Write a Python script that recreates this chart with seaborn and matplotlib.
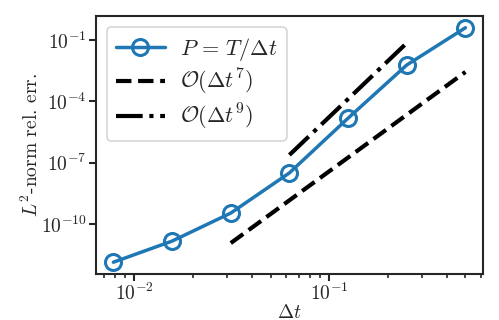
import numpy as np
import pandas as pd
import matplotlib
matplotlib.use("Agg")
import matplotlib.pyplot as plt
import seaborn as sns

# ==========================================
# DATA
# ==========================================
dt = [1/128, 1/64, 1/32, 1/16, 1/8, 1/4, 1/2]
rel_err = [1.4e-12, 1.5e-11, 3.5e-10, 3.2e-8, 1.5e-5, 5.9e-3, 0.39]

# reference slopes, endpoints only
dt_ref7 = [1/32, 1/2]
err_ref7 = [1.2e-11, 2.7e-3]
dt_ref9 = [1/16, 1/4]
err_ref9 = [2.4e-7, 7.0e-2]

series_label = r'$P\,=\,T/\Delta t$'
ref7_label = r'$\mathcal{O}(\Delta t^7)$'
ref9_label = r'$\mathcal{O}(\Delta t^9)$'
ytick_vals = [1e-10, 1e-7, 1e-4, 1e-1]

# ==========================================
# STYLE
# ==========================================
sns.set_theme(style="ticks")
plt.rcParams['font.family'] = ['cmr10', 'DejaVu Serif']
plt.rcParams['mathtext.fontset'] = 'cm'
plt.rcParams['axes.formatter.use_mathtext'] = True
plt.rcParams['axes.linewidth'] = 1.5

df = pd.DataFrame({'dt': dt, 'err': rel_err})

fig = plt.figure(figsize=(4.99, 3.2), dpi=100)
ax = fig.add_axes([0.192, 0.144, 0.776, 0.806])
ax.set(xscale='log', yscale='log')

sns.lineplot(data=df, x='dt', y='err', ax=ax, color='#1f77b4', linewidth=2.5,
             marker='o', markersize=11.5, markerfacecolor='none',
             markeredgecolor='#1f77b4', markeredgewidth=2.2, label=series_label)
ax.plot(dt_ref7, err_ref7, color='black', linestyle='--', linewidth=3, label=ref7_label)
ax.plot(dt_ref9, err_ref9, color='black', linestyle='-.', linewidth=3, label=ref9_label)

ax.set_xlabel(r'$\Delta t$', fontsize=14, labelpad=0)
ax.set_ylabel(r'$L^2$-norm rel. err.', fontsize=14, labelpad=-1)
ax.tick_params(axis='both', which='major', labelsize=14, length=5, width=1.5,
               direction='out', pad=1.5)
ax.tick_params(axis='both', which='minor', length=3, width=1.2)
ax.yaxis.set_major_locator(matplotlib.ticker.FixedLocator(ytick_vals))
ax.yaxis.set_minor_locator(matplotlib.ticker.NullLocator())

leg = ax.legend(loc='upper left', fontsize=16, frameon=True, fancybox=True,
                edgecolor='0.8', handlelength=2.2, handletextpad=0.7,
                borderaxespad=0.5, labelspacing=0.2, borderpad=0.4)
leg.get_frame().set_linewidth(1.2)

ax.grid(False)
fig.savefig("out.png", dpi=100)
